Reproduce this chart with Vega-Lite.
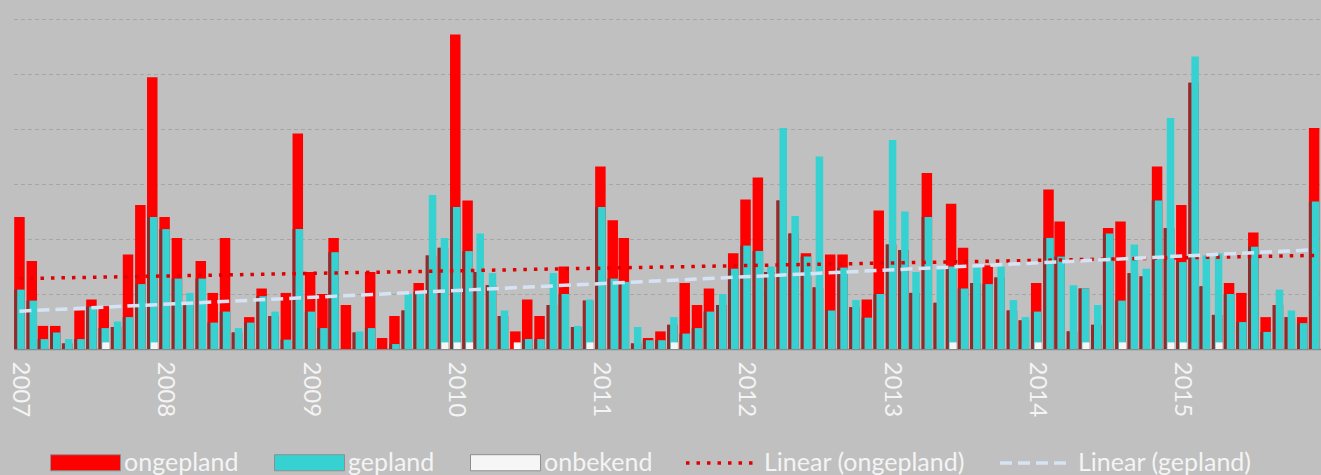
{
  "$schema": "https://vega.github.io/schema/vega-lite/v6.json",
  "width": 1307,
  "height": 349,
  "padding": {"left": 13.5, "top": 0, "right": 0.5, "bottom": 126},
  "autosize": {"type": "none"},
  "background": "#c0c0c0",
  "config": {
    "view": {"stroke": null},
    "font": "Lato",
    "axisY": {"grid": true, "gridDash": [4, 3], "gridColor": "#a6a6a6", "gridWidth": 1, "domain": false, "ticks": false, "labels": false, "minExtent": 0, "maxExtent": 0, "offset": 0, "labelPadding": 0, "tickSize": 0}
  },
  "data": {
    "format": {"parse": {"date": "date"}},
    "values": [
      {"date": "2007-01-16", "ongepland": 12.0, "gepland": 5.4},
      {"date": "2007-02-16", "ongepland": 8.0, "gepland": 4.4},
      {"date": "2007-03-16", "ongepland": 2.1, "gepland": 0.9},
      {"date": "2007-04-16", "ongepland": 2.1, "gepland": 1.5},
      {"date": "2007-05-16", "ongepland": 0.5, "gepland": 0.9},
      {"date": "2007-06-16", "ongepland": 3.5, "gepland": 0.9},
      {"date": "2007-07-16", "ongepland": 4.5, "gepland": 3.85},
      {"date": "2007-08-16", "ongepland": 3.9, "gepland": 1.9, "onbekend": 0.6},
      {"date": "2007-09-16", "ongepland": 2.0, "gepland": 2.5},
      {"date": "2007-10-16", "ongepland": 8.6, "gepland": 2.9},
      {"date": "2007-11-16", "ongepland": 13.1, "gepland": 5.9},
      {"date": "2007-12-16", "ongepland": 24.7, "gepland": 12.0, "onbekend": 0.6},
      {"date": "2008-01-16", "ongepland": 12.0, "gepland": 10.9},
      {"date": "2008-02-16", "ongepland": 10.1, "gepland": 6.4},
      {"date": "2008-03-16", "ongepland": 4.0, "gepland": 5.1},
      {"date": "2008-04-16", "ongepland": 8.0, "gepland": 6.4},
      {"date": "2008-05-16", "ongepland": 5.1, "gepland": 2.4},
      {"date": "2008-06-16", "ongepland": 10.1, "gepland": 3.4},
      {"date": "2008-07-16", "ongepland": 1.5, "gepland": 1.9},
      {"date": "2008-08-16", "ongepland": 2.9, "gepland": 2.4},
      {"date": "2008-09-16", "ongepland": 5.5, "gepland": 4.8},
      {"date": "2008-10-16", "ongepland": 3.0, "gepland": 3.4},
      {"date": "2008-11-16", "ongepland": 5.1, "gepland": 0.85},
      {"date": "2008-12-16", "ongepland": 19.6, "gepland": 10.9},
      {"date": "2009-01-16", "ongepland": 7.0, "gepland": 3.4},
      {"date": "2009-02-16", "ongepland": 5.0, "gepland": 1.9},
      {"date": "2009-03-16", "ongepland": 10.1, "gepland": 8.8},
      {"date": "2009-04-16", "ongepland": 4.0, "gepland": 0},
      {"date": "2009-05-16", "ongepland": 1.5, "gepland": 1.6},
      {"date": "2009-06-16", "ongepland": 7.0, "gepland": 1.9},
      {"date": "2009-07-16", "ongepland": 1.0, "gepland": 0},
      {"date": "2009-08-16", "ongepland": 3.0, "gepland": 0.45},
      {"date": "2009-09-16", "ongepland": 3.5, "gepland": 5.0},
      {"date": "2009-10-16", "ongepland": 6.0, "gepland": 5.2},
      {"date": "2009-11-16", "ongepland": 8.5, "gepland": 14.0},
      {"date": "2009-12-16", "ongepland": 9.2, "gepland": 10.1, "onbekend": 0.6},
      {"date": "2010-01-16", "ongepland": 28.6, "gepland": 12.9, "onbekend": 0.6},
      {"date": "2010-02-16", "ongepland": 13.5, "gepland": 8.9, "onbekend": 0.6},
      {"date": "2010-03-16", "ongepland": 7.0, "gepland": 10.5},
      {"date": "2010-04-16", "ongepland": 5.8, "gepland": 6.9},
      {"date": "2010-05-16", "ongepland": 3.0, "gepland": 3.5},
      {"date": "2010-06-16", "ongepland": 1.6, "gepland": 0, "onbekend": 0.6},
      {"date": "2010-07-16", "ongepland": 4.5, "gepland": 0.9},
      {"date": "2010-08-16", "ongepland": 3.0, "gepland": 0.9},
      {"date": "2010-09-16", "ongepland": 4.0, "gepland": 6.9},
      {"date": "2010-10-16", "ongepland": 7.5, "gepland": 5.0},
      {"date": "2010-11-16", "ongepland": 2.0, "gepland": 2.1},
      {"date": "2010-12-16", "ongepland": 4.4, "gepland": 4.5, "onbekend": 0.6},
      {"date": "2011-01-16", "ongepland": 16.6, "gepland": 12.9},
      {"date": "2011-02-16", "ongepland": 11.7, "gepland": 6.4},
      {"date": "2011-03-16", "ongepland": 10.1, "gepland": 6.1},
      {"date": "2011-04-16", "ongepland": 0.5, "gepland": 2.0},
      {"date": "2011-05-16", "ongepland": 1.0, "gepland": 0.8},
      {"date": "2011-06-16", "ongepland": 1.6, "gepland": 0.8},
      {"date": "2011-07-16", "ongepland": 2.2, "gepland": 2.9, "onbekend": 0.6},
      {"date": "2011-08-16", "ongepland": 6.0, "gepland": 1.4},
      {"date": "2011-09-16", "ongepland": 4.0, "gepland": 1.9},
      {"date": "2011-10-16", "ongepland": 5.5, "gepland": 3.4},
      {"date": "2011-11-16", "ongepland": 4.0, "gepland": 5.0},
      {"date": "2011-12-16", "ongepland": 8.7, "gepland": 7.3},
      {"date": "2012-01-16", "ongepland": 13.6, "gepland": 9.4},
      {"date": "2012-02-16", "ongepland": 15.6, "gepland": 8.9},
      {"date": "2012-03-16", "ongepland": 7.0, "gepland": 7.5},
      {"date": "2012-04-16", "ongepland": 13.5, "gepland": 20.1},
      {"date": "2012-05-16", "ongepland": 10.5, "gepland": 12.1},
      {"date": "2012-06-16", "ongepland": 8.7, "gepland": 8.4},
      {"date": "2012-07-16", "ongepland": 5.6, "gepland": 17.5},
      {"date": "2012-08-16", "ongepland": 8.6, "gepland": 3.5},
      {"date": "2012-09-16", "ongepland": 8.6, "gepland": 7.4},
      {"date": "2012-10-16", "ongepland": 3.8, "gepland": 4.45},
      {"date": "2012-11-16", "ongepland": 4.5, "gepland": 2.85},
      {"date": "2012-12-16", "ongepland": 12.6, "gepland": 5.0},
      {"date": "2013-01-16", "ongepland": 9.5, "gepland": 19.0},
      {"date": "2013-02-16", "ongepland": 9.0, "gepland": 12.5},
      {"date": "2013-03-16", "ongepland": 5.1, "gepland": 7.0},
      {"date": "2013-04-16", "ongepland": 16.0, "gepland": 12.0},
      {"date": "2013-05-16", "ongepland": 4.2, "gepland": 7.4},
      {"date": "2013-06-16", "ongepland": 13.2, "gepland": 7.5, "onbekend": 0.6},
      {"date": "2013-07-16", "ongepland": 9.2, "gepland": 5.5},
      {"date": "2013-08-16", "ongepland": 6.0, "gepland": 7.7},
      {"date": "2013-09-16", "ongepland": 7.6, "gepland": 5.9},
      {"date": "2013-10-16", "ongepland": 6.5, "gepland": 7.5},
      {"date": "2013-11-16", "ongepland": 3.5, "gepland": 4.45},
      {"date": "2013-12-16", "ongepland": 2.6, "gepland": 2.9},
      {"date": "2014-01-16", "ongepland": 6.0, "gepland": 3.4, "onbekend": 0.6},
      {"date": "2014-02-16", "ongepland": 14.5, "gepland": 10.1},
      {"date": "2014-03-16", "ongepland": 11.6, "gepland": 8.4},
      {"date": "2014-04-16", "ongepland": 1.6, "gepland": 5.8},
      {"date": "2014-05-16", "ongepland": 5.5, "gepland": 5.5, "onbekend": 0.6},
      {"date": "2014-06-16", "ongepland": 2.2, "gepland": 4.0},
      {"date": "2014-07-16", "ongepland": 11.0, "gepland": 10.5},
      {"date": "2014-08-16", "ongepland": 11.6, "gepland": 4.4, "onbekend": 0.6},
      {"date": "2014-09-16", "ongepland": 6.9, "gepland": 9.5},
      {"date": "2014-10-16", "ongepland": 6.6, "gepland": 7.3},
      {"date": "2014-11-16", "ongepland": 16.6, "gepland": 13.5},
      {"date": "2014-12-16", "ongepland": 11.0, "gepland": 21.0, "onbekend": 0.6},
      {"date": "2015-01-16", "ongepland": 13.1, "gepland": 7.9, "onbekend": 0.6},
      {"date": "2015-02-16", "ongepland": 24.2, "gepland": 26.6},
      {"date": "2015-03-16", "ongepland": 5.7, "gepland": 8.5},
      {"date": "2015-04-16", "ongepland": 3.1, "gepland": 8.7, "onbekend": 0.6},
      {"date": "2015-05-16", "ongepland": 6.0, "gepland": 5.0},
      {"date": "2015-06-16", "ongepland": 5.1, "gepland": 2.45},
      {"date": "2015-07-16", "ongepland": 10.6, "gepland": 9.3},
      {"date": "2015-08-16", "ongepland": 2.9, "gepland": 1.55},
      {"date": "2015-09-16", "ongepland": 4.0, "gepland": 5.4},
      {"date": "2015-10-16", "ongepland": 2.9, "gepland": 3.5},
      {"date": "2015-11-16", "ongepland": 2.9, "gepland": 2.35},
      {"date": "2015-12-16", "ongepland": 20.1, "gepland": 13.4}
    ]
  },
  "encoding": {
    "x": {
      "field": "date",
      "type": "temporal",
      "title": null,
      "scale": {
        "type": "utc",
        "padding": 0,
        "nice": false,
        "domain": [
          {"year": 2007, "month": 1, "date": 1, "utc": true},
          {"year": 2016, "month": 1, "date": 1, "utc": true}
        ]
      },
      "axis": {
        "values": [
          {"year": 2007, "month": 1, "date": 16, "utc": true},
          {"year": 2008, "month": 1, "date": 16, "utc": true},
          {"year": 2009, "month": 1, "date": 16, "utc": true},
          {"year": 2010, "month": 1, "date": 16, "utc": true},
          {"year": 2011, "month": 1, "date": 16, "utc": true},
          {"year": 2012, "month": 1, "date": 16, "utc": true},
          {"year": 2013, "month": 1, "date": 16, "utc": true},
          {"year": 2014, "month": 1, "date": 16, "utc": true},
          {"year": 2015, "month": 1, "date": 16, "utc": true}
        ],
        "format": "%Y",
        "labelAngle": 90,
        "labelFont": "Lato",
        "labelFontSize": 24,
        "labelColor": "#f4f4f4",
        "labelPadding": 12,
        "labelOverlap": false,
        "labelFlush": false,
        "labelBound": false,
        "ticks": false,
        "grid": false,
        "domainColor": "#8a8a8a",
        "domainWidth": 1.5
      }
    }
  },
  "layer": [
    {
      "mark": {"type": "bar", "width": 10.5},
      "encoding": {
        "y": {
          "field": "ongepland",
          "type": "quantitative",
          "title": null,
          "scale": {"domain": [0, 31.73], "nice": false, "zero": true},
          "axis": {"values": [5, 10, 15, 20, 25, 30]}
        },
        "fill": {
          "datum": "ongepland",
          "scale": {
            "domain": ["ongepland", "gepland", "onbekend"],
            "range": ["#ff0000", "#36d2d2", "#f6f6f6"]
          },
          "legend": {
            "title": null,
            "orient": "none",
            "direction": "horizontal",
            "columns": 3,
            "legendX": 36.5,
            "legendY": 427,
            "padding": 0,
            "columnPadding": 33,
            "labelOffset": 3,
            "symbolType": "M-1,-0.23H1V0.23H-1Z",
            "symbolSize": 4900,
            "symbolStrokeColor": "#8f8f8f",
            "symbolStrokeWidth": 1,
            "symbolOpacity": 1,
            "labelFont": "Lato",
            "labelFontSize": 25,
            "labelColor": "#f4f4f4",
            "labelLimit": 0
          }
        }
      }
    },
    {
      "transform": [{"filter": "datum.gepland <= datum.ongepland"}],
      "mark": {"type": "bar", "width": 3, "xOffset": -3.75, "color": "#8c2d2d"},
      "encoding": {"y": {"field": "gepland", "type": "quantitative", "title": null}}
    },
    {
      "transform": [{"filter": "datum.gepland > datum.ongepland"}],
      "mark": {"type": "bar", "width": 3, "xOffset": -3.75, "color": "#8c2d2d"},
      "encoding": {"y": {"field": "ongepland", "type": "quantitative", "title": null}}
    },
    {
      "mark": {"type": "bar", "width": 7.5, "xOffset": 1.5},
      "encoding": {
        "y": {"field": "gepland", "type": "quantitative", "title": null},
        "fill": {"datum": "gepland"}
      }
    },
    {
      "mark": {"type": "bar", "width": 7, "xOffset": 2},
      "encoding": {
        "y": {"field": "onbekend", "type": "quantitative", "title": null},
        "fill": {"datum": "onbekend"}
      }
    },
    {
      "transform": [{"regression": "ongepland", "on": "date"}],
      "mark": {"type": "line", "strokeWidth": 3.5},
      "encoding": {
        "y": {"field": "ongepland", "type": "quantitative", "title": null},
        "stroke": {
          "datum": "Linear (ongepland)",
          "scale": {
            "domain": ["Linear (ongepland)", "Linear (gepland)"],
            "range": ["#e00000", "#d6e3f5"]
          },
          "legend": {
            "title": null,
            "orient": "none",
            "direction": "horizontal",
            "columns": 2,
            "legendX": 670.5,
            "legendY": 427,
            "padding": 0,
            "columnPadding": 28,
            "labelOffset": 8,
            "symbolType": "stroke",
            "symbolSize": 4624,
            "symbolStrokeWidth": 3.5,
            "symbolOpacity": 1,
            "labelFont": "Lato",
            "labelFontSize": 25,
            "labelColor": "#f4f4f4",
            "labelLimit": 0
          }
        },
        "strokeDash": {
          "datum": "Linear (ongepland)",
          "scale": {
            "domain": ["Linear (ongepland)", "Linear (gepland)"],
            "range": [[3.5, 7], [12, 6]]
          },
          "legend": {
            "title": null,
            "orient": "none",
            "direction": "horizontal",
            "columns": 2,
            "legendX": 670.5,
            "legendY": 427,
            "padding": 0,
            "columnPadding": 28,
            "labelOffset": 8,
            "symbolType": "stroke",
            "symbolSize": 4624,
            "symbolStrokeWidth": 3.5,
            "symbolOpacity": 1,
            "labelFont": "Lato",
            "labelFontSize": 25,
            "labelColor": "#f4f4f4",
            "labelLimit": 0
          }
        }
      }
    },
    {
      "transform": [{"regression": "gepland", "on": "date"}],
      "mark": {"type": "line", "strokeWidth": 3.5},
      "encoding": {
        "y": {"field": "gepland", "type": "quantitative", "title": null},
        "stroke": {"datum": "Linear (gepland)"},
        "strokeDash": {"datum": "Linear (gepland)"}
      }
    }
  ]
}
